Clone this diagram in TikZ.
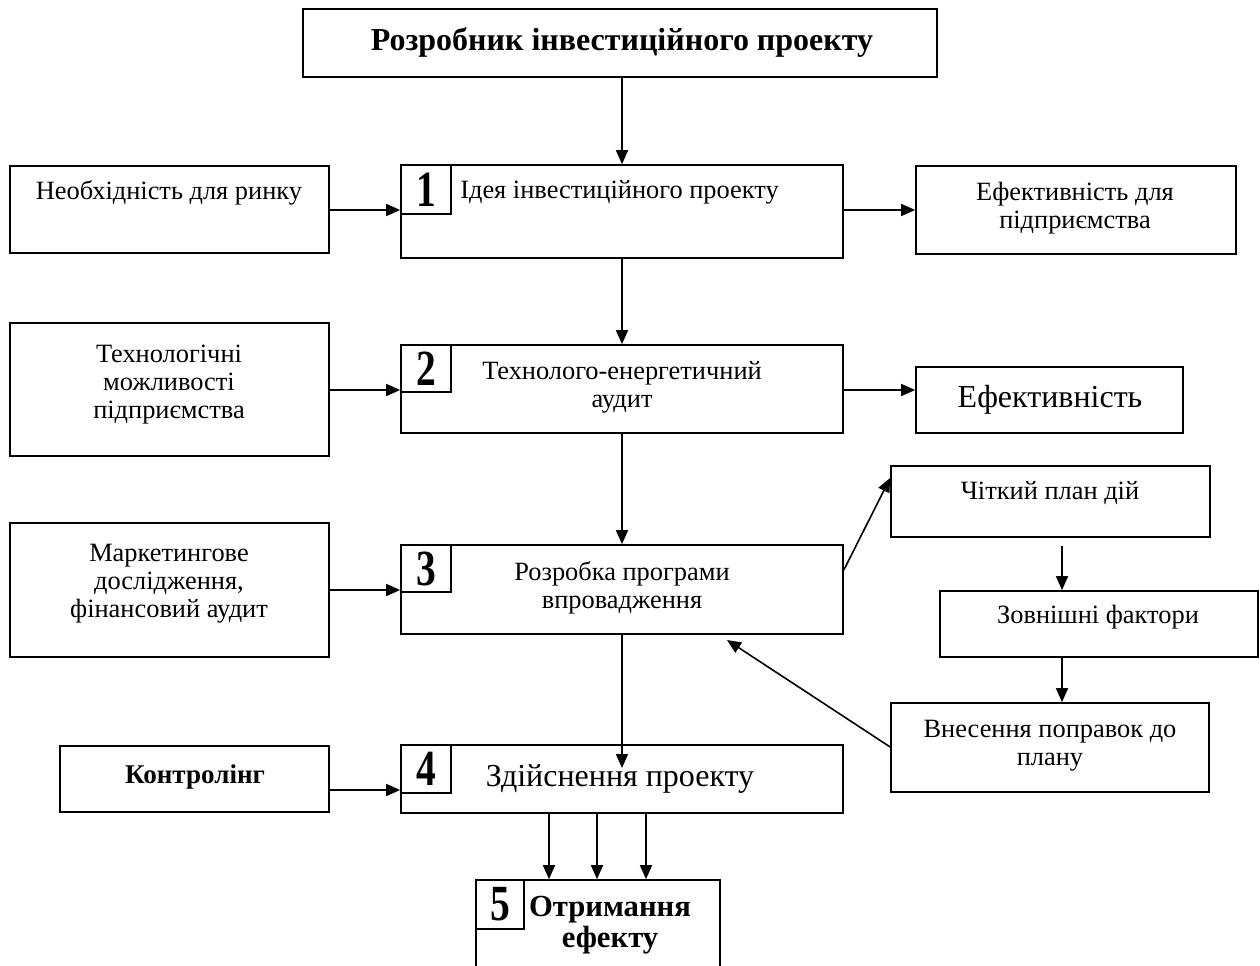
\documentclass[tikz,border=0pt]{standalone}
\usepackage{fontspec}
\usepackage{graphicx}
\setmainfont{Liberation Serif}
\usetikzlibrary{fit,calc,arrows.meta}
\begin{document}
\begin{tikzpicture}[x=0.75pt,y=-0.75pt,
  box/.style={draw, line width=1.25pt, inner sep=0pt},
  arr/.style={-{Triangle[length=10.5pt,width=9pt]}, line width=1.2pt},
  txt/.style={font=\fontsize{19.8}{21}\selectfont, align=center, inner sep=0pt},
  bigtxt/.style={font=\fontsize{24}{26}\selectfont, align=center, inner sep=0pt},
  boldtxt/.style={font=\fontsize{20.3}{21}\selectfont\bfseries, align=center, inner sep=0pt},
  num/.style={font=\fontsize{38}{38}\selectfont\bfseries, inner sep=0pt}]
\useasboundingbox (0,0) rectangle (1260,966);

% header
\node[box, line width=1.9pt, fit={(303,9) (937,77)}] (top) {};
\node[font=\fontsize{24}{26}\selectfont\bfseries, inner sep=0pt] at (622,43) {Розробник інвестиційного проекту};

% main column of numbered stages
\node[box, fit={(401,165) (843,258)}] (b1) {};
\node[box, fit={(401,165) (451,214)}] (n1) {};
\node[num] at (n1.center) {\scalebox{0.78}[1]{1}};
\node[txt, anchor=west] at (460,192) {Ідея інвестиційного проекту};

\node[box, fit={(401,345) (843,433)}] (b2) {};
\node[box, fit={(401,345) (451,392)}] (n2) {};
\node[num] at (n2.center) {\scalebox{0.78}[1]{2}};
\node[txt] at (622,387) {Технолого-енергетичний\\аудит};

\node[box, fit={(401,545) (843,634)}] (b3) {};
\node[box, fit={(401,545) (451,592)}] (n3) {};
\node[num] at (n3.center) {\scalebox{0.78}[1]{3}};
\node[txt] at (622,588) {Розробка програми\\впровадження};

\node[box, fit={(401,745) (843,813)}] (b4) {};
\node[box, fit={(401,745) (451,793)}] (n4) {};
\node[num] at (n4.center) {\scalebox{0.78}[1]{4}};
\node[bigtxt] at (620,779) {Здійснення проекту};

\node[box, fit={(476,880) (720,1000)}] (b5) {};
\node[box, fit={(476,880) (524,929)}] (n5) {};
\node[num] at (n5.center) {\scalebox{0.78}[1]{5}};
\node[font=\fontsize{23}{23}\selectfont\bfseries, align=center, inner sep=0pt] at (610,925) {Отримання\\ефекту};

% left inputs
\node[box, fit={(10,166) (329,253)}] (l1) {};
\node[txt] at (169,193) {Необхідність для ринку};
\node[box, fit={(10,323) (329,456)}] (l2) {};
\node[txt] at (169,385) {Технологічні\\можливості\\підприємства};
\node[box, fit={(10,523) (329,657)}] (l3) {};
\node[txt] at (169,584) {Маркетингове\\дослідження,\\фінансовий аудит};
\node[box, fit={(60,746) (329,812)}] (l4) {};
\node[boldtxt] at (195,777) {Контролінг};

% right outputs
\node[box, fit={(916,166) (1236,254)}] (r1) {};
\node[txt] at (1075,208) {Ефективність для\\підприємства};
\node[box, fit={(916,367) (1183,433)}] (r2) {};
\node[bigtxt] at (1050,400) {Ефективність};

% planning loop
\node[box, fit={(891,466) (1210,537)}] (ch) {};
\node[txt] at (1050,493) {Чіткий план дій};
\node[box, fit={(940,591) (1258,657)}] (zv) {};
\node[txt] at (1098,617) {Зовнішні фактори};
\node[box, fit={(891,703) (1209,792)}] (vn) {};
\node[txt] at (1050,746) {Внесення поправок до\\плану};

\coordinate (ret) at (727,640);
\coordinate (lp) at (1062,546);
\coordinate (in4) at (622,768);

% connectors
\draw[arr] (b1.north |- top.south) -- (b1.north);
\draw[arr] (l1.east |- 0,210) -- (b1.west |- 0,210);
\draw[arr] (b1.east |- 0,210) -- (r1.west |- 0,210);
\draw[arr] (b1.south) -- (b2.north);
\draw[arr] (l2.east |- 0,390) -- (b2.west |- 0,390);
\draw[arr] (b2.east |- 0,390) -- (r2.west |- 0,390);
\draw[arr] (b2.south) -- (b3.north);
\draw[arr] (l3.east |- 0,590) -- (b3.west |- 0,590);
\draw[arr] (b3.east |- 0,570) -- (ch.west |- 0,478);
\draw[arr] (lp) -- (lp |- zv.north);
\draw[arr] (zv.south -| lp) -- (lp |- vn.north);
\draw[arr] (vn.west |- 0,747) -- (ret);
\draw[arr] (b3.south) -- (in4);
\draw[arr] (l4.east |- 0,790) -- (b4.west |- 0,790);
\foreach \x in {549,597,646}
  \draw[arr] (b4.south -| \x,0) -- (b5.north -| \x,0);
\end{tikzpicture}
\end{document}
